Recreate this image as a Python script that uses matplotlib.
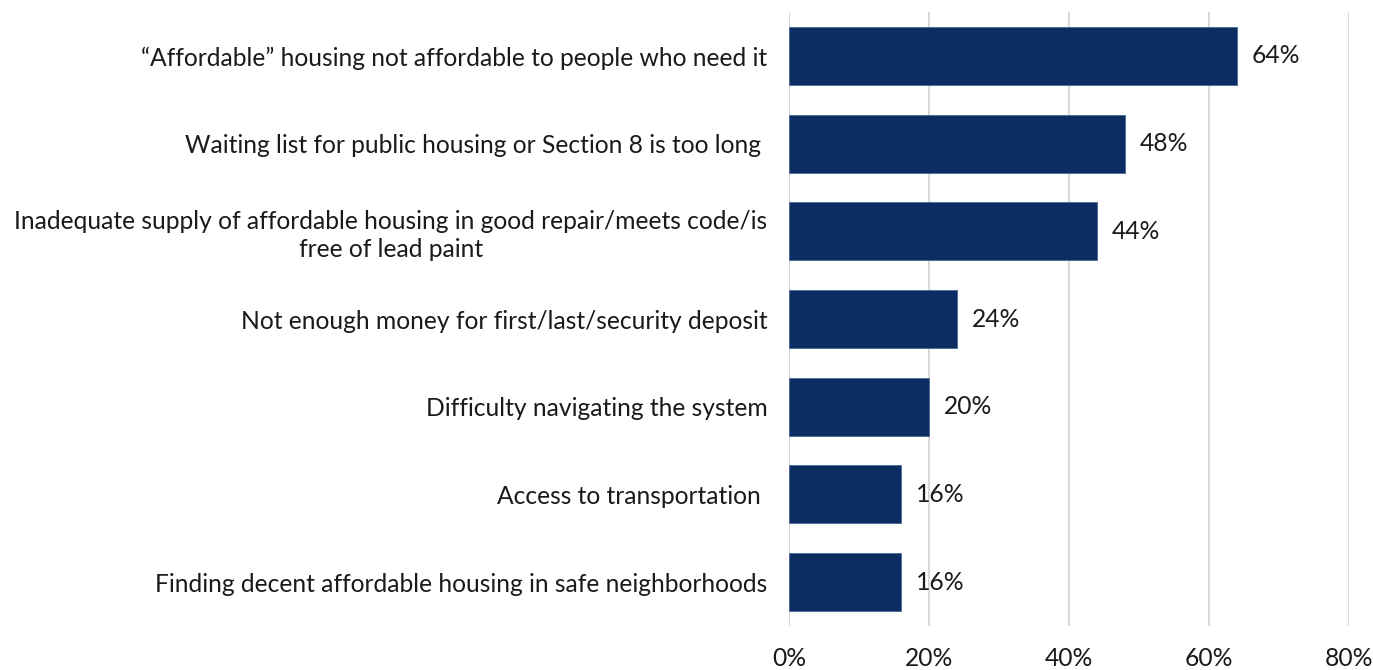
import matplotlib
matplotlib.use("Agg")
import matplotlib.pyplot as plt
from matplotlib.ticker import FuncFormatter

categories = [
    "\u201cAffordable\u201d housing not affordable to people who need it",
    "Waiting list for public housing or Section 8 is too long ",
    "Inadequate supply of affordable housing in good repair/meets code/is\nfree of lead paint",
    "Not enough money for first/last/security deposit",
    "Difficulty navigating the system",
    "Access to transportation ",
    "Finding decent affordable housing in safe neighborhoods",
]
values = [64, 48, 44, 24, 20, 16, 16]
xticks = [0, 20, 40, 60, 80]

plt.rcParams['font.family'] = ['Lato', 'DejaVu Sans']
FS = 17.7

fig = plt.figure(figsize=(13.73, 6.70), dpi=100)
ax = fig.add_axes([0.575, 0.0657, 0.4075, 0.9163])

ypos = list(range(len(categories)))
ax.barh(ypos, values, height=0.66, color='#0c2d62', edgecolor='#4a6a9a', linewidth=0.6, zorder=3)
for y, v in zip(ypos, values):
    ax.text(v + 2.1, y, f"{v}%", va='center', ha='left', fontsize=FS, color='#1a1a1a')

ax.set_ylim(len(categories) - 0.5, -0.5)
ax.set_xlim(0, 80)
ax.set_yticks(ypos)
ax.set_yticklabels(categories, fontsize=FS, color='#1a1a1a', multialignment='center',
                   linespacing=1.25)
ax.set_xticks(xticks)
ax.xaxis.set_major_formatter(FuncFormatter(lambda v, p: f"{int(v)}%"))
ax.tick_params(axis='x', length=0, pad=15, labelsize=FS, labelcolor='#1a1a1a')
ax.tick_params(axis='y', length=0, pad=16)
for s in ax.spines.values():
    s.set_visible(False)
ax.grid(axis='x', color='#d9d9d9', linewidth=1.5, zorder=0)
ax.set_axisbelow(True)

fig.savefig("out.png", dpi=100)
